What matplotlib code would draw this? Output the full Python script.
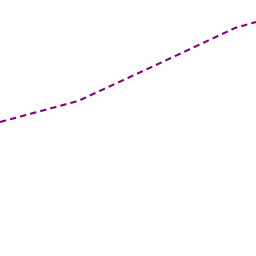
import matplotlib
matplotlib.use("Agg")
import matplotlib.pyplot as plt

# values (pixel-like units, y grows upward)
x_vals = [0, 78, 157, 235, 256]
y_vals = [134, 155, 191.5, 228, 234]

fig = plt.figure(figsize=(2.56, 2.56), dpi=100)
ax = fig.add_axes([0, 0, 1, 1])
ax.plot(x_vals, y_vals, color="#800080", lw=1.5, dashes=(3, 2))
ax.set_xlim(0, 256)
ax.set_ylim(0, 256)
ax.axis("off")
fig.savefig("out.png", dpi=100, facecolor="white")
